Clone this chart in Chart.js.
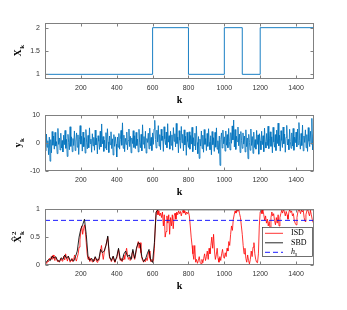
<!DOCTYPE html>
<html>
<head>
<meta charset="utf-8">
<script src="https://cdn.jsdelivr.net/npm/chart.js@4.4.0/dist/chart.umd.min.js"></script>
<style>
html, body { margin: 0; padding: 0; background: #fff; }
#wrap { position: relative; width: 347px; height: 310px; }
canvas { position: absolute; left: 0; }
</style>
</head>
<body>
<div id="wrap">
  <canvas id="c1" width="347" height="105" style="top:0px"></canvas>
  <canvas id="c2" width="347" height="95" style="top:105px"></canvas>
  <canvas id="c3" width="347" height="110" style="top:200px"></canvas>
</div>
<script>
// shared k axis
const kMin = 0, kMax = 1500;
const kTicks = [200, 400, 600, 800, 1000, 1200, 1400];

// top panel: state X_k (switch points)
const stateK = [0, 600, 800, 1000, 1100, 1200, 1500];
const stateX = [1, 2, 1, 2, 1, 2, 1];
const stateTicks = [1, 1.5, 2];

// middle panel: measurements y_k, one value every 4 samples
const ykStep = 4;
const yk = [
  1.5,-2.8,3.2,-1.5,0.8,-4.2,2.1,-6.5,1.2,-3.5,4.1,-0.8,2.5,-2.2,3.8,-1.1,0.5,-3.8,5.2,-0.5,1.8,-2.5,3.5,-1.8,0.9,
  -3.2,2.8,-0.6,4.5,-1.9,1.3,-4.8,3.1,0.2,-2.4,5.8,-1.2,2.2,-3.1,1.6,-0.9,4.3,-2.7,0.7,3.6,-1.5,2.9,-4.1,1.1,6.2,
  -0.4,2.4,-2.9,3.9,-1.3,1.9,-3.6,4.8,0.3,-2.1,2.7,-1.7,5.4,-0.2,1.4,-3.3,3.3,-1.0,2.0,-2.6,4.6,-0.7,1.7,-3.9,2.6,
  0.6,-2.3,4.2,-1.4,6.8,-0.3,2.3,-3.0,1.0,-1.8,3.7,-2.5,5.1,0.4,-3.4,2.5,-0.6,4.0,-2.0,1.5,-4.3,3.0,-1.2,2.2,-0.4,
  -5.0,2.1,-1.5,3.4,-2.2,1.2,4.5,-0.8,7.2,-1.9,2.8,-3.1,1.7,-0.5,3.9,-2.4,0.9,5.0,-1.3,2.4,-3.5,1.8,-0.2,4.4,-1.6,
  2.6,-2.0,3.8,-0.9,1.4,-3.2,4.9,0.1,-1.7,3.1,-2.8,6.5,-0.4,2.3,-1.9,4.2,-3.6,1.6,0.2,3.5,-2.1,5.3,-1.0,2.0,-2.7,
  3.6,-0.5,5.0,8.1,1.2,-1.8,4.6,0.4,6.2,-1.1,3.0,-2.4,4.9,0.9,2.5,-3.0,5.8,1.5,-0.6,3.9,-1.7,6.9,0.3,2.6,-2.2,
  4.2,-0.8,2.9,-2.6,5.5,0.6,3.3,-1.4,7.0,-0.2,2.1,-3.5,4.4,1.0,-1.9,5.9,0.1,3.1,-2.8,4.7,-0.7,2.4,-4.4,3.8,0.5,
  -1.6,4.0,-2.2,2.7,-0.4,5.6,-3.1,1.9,-0.9,3.5,-2.5,6.0,0.2,-3.8,2.3,-5.5,1.4,-1.1,4.3,-2.0,2.8,-3.3,4.8,-0.5,1.6,
  -2.7,3.4,-1.2,5.1,0.3,-2.4,2.6,-4.2,4.1,-0.6,1.9,-3.0,3.8,-1.5,5.4,-2.2,0.8,-3.7,2.5,-8.0,1.2,3.6,-1.8,4.6,-0.3,
  2.2,-2.9,4.3,-0.8,3.0,-1.7,5.2,0.6,-2.5,3.7,-0.1,6.1,1.1,8.2,-1.4,4.8,-2.3,2.4,0.5,5.7,-1.0,3.2,-3.4,4.1,0.8,
  -1.9,3.6,-0.4,2.5,-3.2,4.7,-1.3,1.8,-5.6,3.1,0.2,-2.6,5.0,-0.9,2.3,-3.7,3.9,-1.6,1.2,-2.2,4.5,-0.5,2.9,-4.0,3.3,
  0.7,-2.4,4.2,-0.6,2.6,-3.1,5.3,0.3,-1.8,3.4,-0.9,6.0,-2.0,1.5,4.0,-1.2,2.2,-3.5,5.6,0.4,-1.5,3.0,-2.7,4.6,-0.2,
  7.1,-1.0,2.8,-2.9,4.4,0.9,-1.6,5.7,-0.3,3.2,-3.3,2.0,6.3,-0.7,1.3,-2.4,4.9,0.5,-1.9,3.6,-1.1,5.2,-2.6,2.1,0.1,
  3.9,-1.4,5.0,-0.6,7.3,0.8,-2.2,3.4,-0.9,6.4,-2.8,2.5,0.2,4.7,-1.7,3.0,-3.0,5.5,0.6,-1.3,4.2,-0.4,8.8,-2.5,3.1
];
const ykTicks = [-10, 0, 10];

// bottom panel: detector statistics
const isdStep = 5;
const isd = [
  0.02,0.05,0.03,0.08,0.06,0.12,0.09,0.15,0.1,0.18,0.12,0.08,0.14,0.1,0.06,0.09,0.05,0.08,0.12,0.07,
  0.1,0.16,0.09,0.2,0.13,0.07,0.15,0.1,0.05,0.08,0.12,0.06,0.1,0.18,0.11,0.07,0.14,0.2,0.32,0.45,
  0.6,0.7,0.55,0.65,0.72,0.6,0.4,0.2,0.1,0.15,0.06,0.12,0.08,0.05,0.1,0.07,0.14,0.09,0.05,0.11,
  0.08,0.15,0.25,0.35,0.2,0.1,0.22,0.3,0.3,0.42,0.5,0.3,0.12,0.12,0.06,0.1,0.15,0.08,0.05,0.1,
  0.12,0.2,0.28,0.15,0.08,0.12,0.06,0.1,0.18,0.1,0.22,0.3,0.18,0.1,0.14,0.08,0.12,0.2,0.25,0.15,
  0.1,0.18,0.28,0.35,0.42,0.3,0.4,0.22,0.12,0.08,0.05,0.1,0.06,0.12,0.08,0.18,0.25,0.12,0.06,0.1,
  0.05,0.08,0.3,0.7,0.95,0.98,0.9,0.97,0.88,0.93,0.85,0.95,0.7,0.9,0.5,0.6,0.88,0.75,0.9,0.55,
  0.85,0.7,0.9,0.65,0.88,0.93,0.82,0.95,0.9,0.97,0.92,0.96,0.88,0.95,0.98,0.93,0.97,0.9,0.95,0.92,
  0.95,0.88,0.7,0.5,0.35,0.2,0.1,0.35,0.05,0.1,0.03,0.08,0.15,0.05,0.02,0.1,0.04,0.12,0.2,0.08,
  0.15,0.25,0.1,0.3,0.2,0.35,0.5,0.3,0.55,0.25,0.1,0.18,0.3,0.12,0.05,0.15,0.08,0.2,0.28,0.15,
  0.12,0.22,0.15,0.3,0.25,0.42,0.35,0.55,0.7,0.62,0.82,0.9,0.97,0.93,0.99,0.96,1.0,0.92,0.85,0.7,
  0.55,0.35,0.2,0.3,0.12,0.05,0.18,0.08,0.02,0.1,0.25,0.15,0.32,0.4,0.2,0.1,0.05,0.04,0.2,0.7,
  0.95,0.98,0.92,0.99,0.9,0.8,0.88,0.75,0.82,0.7,0.78,0.65,0.85,0.95,0.88,0.92,0.8,0.72,0.85,0.75,
  0.9,0.7,0.85,0.92,0.98,0.93,1.0,0.95,0.88,0.96,0.9,0.82,0.95,0.99,0.94,0.97,0.88,0.92,0.8,0.75,
  0.72,0.85,0.95,1.0,0.97,0.92,0.99,0.95,0.98,0.85,0.78,0.9,0.97,1.0,0.93,0.88,0.98,0.9,0.82,0.76
];
const sbdK = [
  0,10,20,30,40,50,60,70,80,90,100,110,120,130,140,150,160,170,180,190,
  200,210,220,230,240,250,260,270,280,290,300,310,320,330,340,350,360,370,380,390,
  400,410,420,430,440,450,460,470,480,490,500,510,520,530,540,550,560,570,580,590,
  600,610,620,630,1500
];
const sbd = [
  0.03,0.06,0.1,0.08,0.16,0.12,0.15,0.08,0.06,0.13,0.1,0.18,0.12,0.16,0.08,0.1,0.07,0.15,0.25,0.5,
  0.65,0.72,0.82,0.55,0.15,0.08,0.12,0.06,0.15,0.08,0.1,0.28,0.22,0.25,0.35,0.52,0.15,0.08,0.16,0.06,
  0.15,0.3,0.1,0.08,0.2,0.25,0.15,0.18,0.1,0.28,0.12,0.3,0.4,0.38,0.15,0.06,0.1,0.2,0.28,0.08,
  0.05,0.4,0.95,0.99,0.99
];
const hs = 0.8;
const chiTicks = [0, 0.5, 1];

const tickFont = { family: "'Liberation Sans', Arial, sans-serif", size: 7 };
const serif = "'Liberation Serif', 'DejaVu Serif', serif";

function pts(xs, ys) { return ys.map((y, i) => ({ x: xs[i], y: y })); }
function stepPts(step, ys) { return ys.map((y, i) => ({ x: i * step, y: y })); }

function drawYLabel(ctx, x, y, lab) {
  ctx.save();
  ctx.translate(x, y);
  ctx.rotate(-Math.PI / 2);
  ctx.fillStyle = '#000';
  ctx.textAlign = 'left';
  ctx.textBaseline = 'alphabetic';
  ctx.font = 'bold 10px ' + serif;
  const wb = ctx.measureText(lab.base).width;
  ctx.font = 'bold 7px ' + serif;
  const ws = Math.max(lab.sub ? ctx.measureText(lab.sub).width : 0,
                      lab.sup ? ctx.measureText(lab.sup).width : 0);
  const x0 = -(wb + ws) / 2;
  ctx.font = 'bold 10px ' + serif;
  ctx.fillText(lab.base, x0, 0);
  ctx.font = 'bold 7px ' + serif;
  if (lab.sub) ctx.fillText(lab.sub, x0 + wb + 0.5, 2.5);
  if (lab.sup) ctx.fillText(lab.sup, x0 + wb + 0.5, -5);
  if (lab.hat) {
    ctx.strokeStyle = '#000';
    ctx.lineWidth = 0.9;
    ctx.beginPath();
    ctx.moveTo(x0 + wb * 0.2, -7.5);
    ctx.lineTo(x0 + wb * 0.5, -9.5);
    ctx.lineTo(x0 + wb * 0.8, -7.5);
    ctx.stroke();
  }
  ctx.restore();
}

function drawLegend(chart, ctx, a) {
  const w = 51, h = 30;
  const left = Math.round(a.right) - 1 - w, top = Math.round(a.top) + 18;
  ctx.fillStyle = '#fff';
  ctx.fillRect(left, top, w, h);
  ctx.strokeStyle = '#333';
  ctx.lineWidth = 0.7;
  ctx.strokeRect(left + 0.5, top + 0.5, w - 1, h - 1);
  chart.data.datasets.forEach((ds, i) => {
    const yy = top + 6.3 + i * 9.5;
    ctx.save();
    ctx.strokeStyle = ds.borderColor;
    ctx.lineWidth = ds.borderWidth;
    ctx.setLineDash(ds.borderDash || []);
    ctx.beginPath();
    ctx.moveTo(left + 3, yy);
    ctx.lineTo(left + 21, yy);
    ctx.stroke();
    ctx.restore();
    ctx.fillStyle = '#000';
    ctx.textAlign = 'left';
    ctx.textBaseline = 'middle';
    const parts = ds.label.split('_');
    if (parts.length > 1) {
      ctx.font = 'italic 8px ' + serif;
      ctx.fillText(parts[0], left + 29, yy);
      const wh = ctx.measureText(parts[0]).width;
      ctx.font = 'italic 5.5px ' + serif;
      ctx.fillText(parts[1], left + 29 + wh, yy + 2);
    } else {
      ctx.font = '8px ' + serif;
      ctx.fillText(ds.label, left + 29, yy);
    }
  });
}

// box, inward ticks, axis titles, legend (MATLAB look)
const matlabAxes = {
  id: 'matlabAxes',
  afterDatasetsDraw(chart, args, opts) {
    const ctx = chart.ctx, a = chart.chartArea;
    const xs = chart.scales.x, ys = chart.scales.y;
    const L = Math.round(a.left) + 0.5, R = Math.round(a.right) - 0.5;
    const T = Math.round(a.top) + 0.5, B = Math.round(a.bottom) - 0.5;
    ctx.save();
    ctx.strokeStyle = '#808080';
    ctx.lineWidth = 1;
    ctx.strokeRect(L, T, R - L, B - T);
    ctx.beginPath();
    xs.ticks.forEach(t => {
      const px = Math.round(xs.getPixelForValue(t.value)) + 0.5;
      ctx.moveTo(px, B); ctx.lineTo(px, B - 3);
      ctx.moveTo(px, T); ctx.lineTo(px, T + 3);
    });
    ys.ticks.forEach(t => {
      const py = Math.round(ys.getPixelForValue(t.value)) + 0.5;
      ctx.moveTo(L, py); ctx.lineTo(L + 3, py);
      ctx.moveTo(R, py); ctx.lineTo(R - 3, py);
    });
    ctx.stroke();
    ctx.fillStyle = '#000';
    ctx.font = 'bold 10px ' + serif;
    ctx.textAlign = 'center';
    ctx.textBaseline = 'alphabetic';
    ctx.fillText('k', (a.left + a.right) / 2, a.bottom + 23.5);
    drawYLabel(ctx, 21, (a.top + a.bottom) / 2, opts.ylabel);
    if (opts.legend) drawLegend(chart, ctx, a);
    ctx.restore();
  }
};

function panel(id, datasets, yMin, yMax, yTicks, padTop, axisH, ylabel, legend) {
  return new Chart(document.getElementById(id), {
    type: 'line',
    data: { datasets: datasets },
    options: {
      responsive: false,
      animation: false,
      layout: { padding: { top: padTop, right: 33, left: 0, bottom: 0 } },
      plugins: {
        legend: { display: false },
        tooltip: { enabled: false },
        matlabAxes: { ylabel: ylabel, legend: legend }
      },
      elements: { point: { radius: 0 }, line: { tension: 0 } },
      scales: {
        x: {
          type: 'linear', min: kMin, max: kMax,
          afterBuildTicks: s => { s.ticks = kTicks.map(v => ({ value: v })); },
          afterFit: s => { s.height = axisH; },
          ticks: { font: tickFont, color: '#333', padding: 5, maxRotation: 0, autoSkip: false,
                   callback: v => String(v) },
          grid: { display: false, drawTicks: false },
          border: { display: false }
        },
        y: {
          min: yMin, max: yMax,
          afterBuildTicks: s => { s.ticks = yTicks.map(v => ({ value: v })); },
          afterFit: s => { s.width = 45; },
          ticks: { font: tickFont, color: '#333', padding: 5, callback: v => String(v) },
          grid: { display: false, drawTicks: false },
          border: { display: false }
        }
      }
    },
    plugins: [matlabAxes]
  });
}

panel('c1', [{
  data: pts(stateK, stateX), borderColor: '#0072BD', borderWidth: 0.9, stepped: 'before'
}], 0.9, 2.1, stateTicks, 23, 26, { base: 'X', sub: 'k' }, false);

panel('c2', [{
  data: stepPts(ykStep, yk), borderColor: '#0072BD', borderWidth: 0.85
}], -10, 10, ykTicks, 10, 29, { base: 'y', sub: 'k' }, false);

panel('c3', [
  { label: 'ISD', data: stepPts(isdStep, isd), borderColor: '#ff0000', borderWidth: 0.8, order: 2 },
  { label: 'SBD', data: pts(sbdK, sbd), borderColor: '#000000', borderWidth: 0.85, order: 1 },
  { label: 'h_s', data: pts([kMin, kMax], [hs, hs]), borderColor: '#0000ff', borderWidth: 0.9,
    borderDash: [5, 3], order: 0 }
], 0, 1, chiTicks, 9, 45, { base: 'X', sub: 'k', sup: '2', hat: true }, true);
</script>
</body>
</html>
